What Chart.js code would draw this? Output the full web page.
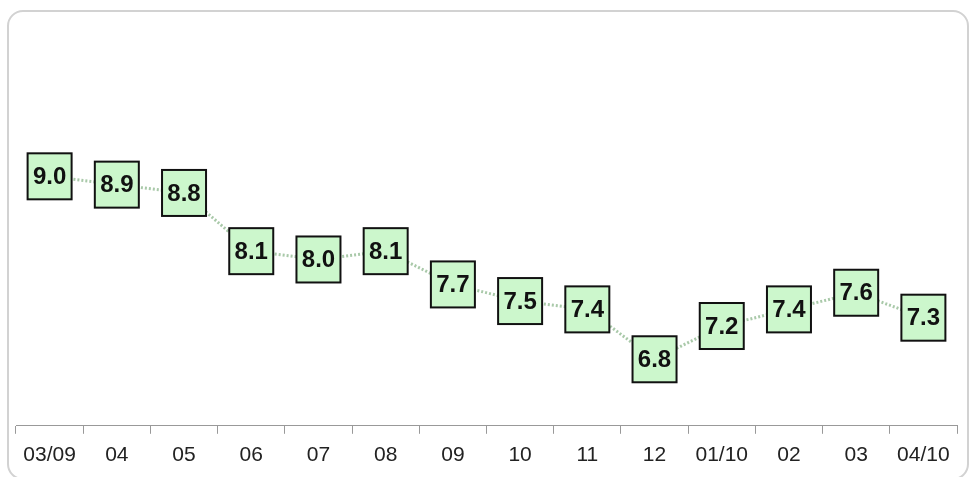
<!DOCTYPE html>
<html>
<head>
<meta charset="utf-8">
<script src="https://cdn.jsdelivr.net/npm/chart.js@4/dist/chart.umd.min.js"></script>
<style>
  html, body { margin: 0; padding: 0; background: #fff; }
  #wrap { position: relative; width: 975px; height: 477px; overflow: hidden; }
  #frame { position: absolute; left: 7px; top: 10px; width: 962px; height: 470px;
           border: 2px solid #d2d2d2; border-radius: 16px; box-sizing: border-box; }
  #c { position: absolute; left: 0; top: 0; }
</style>
</head>
<body>
<div id="wrap">
  <div id="frame"></div>
  <canvas id="c" width="975" height="477"></canvas>
</div>
<script>
const months = ["03/09", "04", "05", "06", "07", "08", "09", "10", "11", "12", "01/10", "02", "03", "04/10"];
const values = [9.0, 8.9, 8.8, 8.1, 8.0, 8.1, 7.7, 7.5, 7.4, 6.8, 7.2, 7.4, 7.6, 7.3];

const boxPlugin = {
  id: 'valueBoxes',
  afterDatasetsDraw(chart) {
    const ctx = chart.ctx;
    const meta = chart.getDatasetMeta(0);
    const w = 44, h = 46;
    ctx.save();
    meta.data.forEach((pt, i) => {
      const x = pt.x, y = pt.y;
      ctx.fillStyle = '#ccf7cc';
      ctx.fillRect(x - w / 2, y - h / 2, w, h);
      ctx.lineWidth = 2;
      ctx.strokeStyle = '#111';
      ctx.strokeRect(x - w / 2, y - h / 2, w, h);
      ctx.fillStyle = '#111';
      ctx.font = 'bold 24px "Liberation Sans", Arial, sans-serif';
      ctx.textAlign = 'center';
      ctx.textBaseline = 'middle';
      ctx.fillText(values[i].toFixed(1), x, y + 1);
    });
    ctx.restore();
  }
};

new Chart(document.getElementById('c'), {
  type: 'line',
  data: {
    labels: months,
    datasets: [{
      data: values,
      borderColor: '#a9c9a9',
      borderWidth: 3,
      borderDash: [2, 2],
      pointRadius: 0,
      tension: 0,
      fill: false
    }]
  },
  options: {
    responsive: false,
    animation: false,
    devicePixelRatio: 1,
    layout: { padding: { left: 16, right: 18, top: 10, bottom: 0 } },
    plugins: { legend: { display: false }, tooltip: { enabled: false } },
    scales: {
      x: {
        offset: true,
        grid: { display: true, drawOnChartArea: false, drawTicks: true, tickLength: 8, color: '#999', offset: true },
        border: { display: true, color: '#999', width: 1 },
        ticks: { color: '#222', padding: 9, font: { family: '"Liberation Sans", Arial, sans-serif', size: 21 }, maxRotation: 0, autoSkip: false }
      },
      y: {
        display: false,
        min: 6,
        max: 11
      }
    }
  },
  plugins: [boxPlugin]
});
</script>
</body>
</html>
